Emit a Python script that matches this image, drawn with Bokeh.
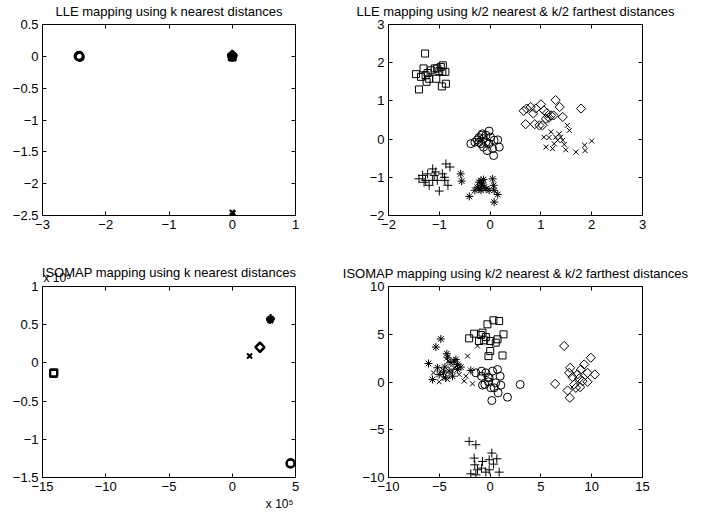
import math
from bokeh.plotting import figure
from bokeh.layouts import gridplot
from bokeh.models import LinearAxis, FixedTicker, CustomJSTickFormatter, Label, Range1d, Title
from bokeh.embed import file_html
from bokeh.resources import INLINE

FONT = "Liberation Sans"

# ---------------- titles ----------------
titles = [
    "LLE mapping using k nearest distances",
    "LLE mapping using k/2 nearest & k/2 farthest distances",
    "ISOMAP mapping using k nearest distances",
    "ISOMAP mapping using k/2 nearest & k/2 farthest distances",
]
multiplier_text = "x 10\u2075"

# ---------------- ticks ----------------
tl_xticks = [-3, -2, -1, 0, 1]
tl_yticks = [-2.5, -2, -1.5, -1, -0.5, 0, 0.5]
tr_xticks = [-2, -1, 0, 1, 2, 3]
tr_yticks = [-2, -1, 0, 1, 2, 3]
bl_xticks = [-15, -10, -5, 0, 5]
bl_yticks = [-1.5, -1, -0.5, 0, 0.5, 1]
br_xticks = [-10, -5, 0, 5, 10, 15]
br_yticks = [-10, -5, 0, 5, 10]

# ---------------- top-left: LLE k nearest ----------------
tl_ci_x = [-2.43, -2.42, -2.41, -2.42]
tl_ci_y = [0.0, 0.01, -0.01, 0.0]
tl_x_x = [0.0, 0.01]
tl_x_y = [-2.45, -2.46]
tl_di_x = [0.0, 0.0]
tl_di_y = [0.0, 0.02]
tl_sq_x = [0.0]
tl_sq_y = [-0.01]
tl_pl_x = [0.0, 0.0]
tl_pl_y = [0.0, 0.03]
tl_st_x = [0.0, 0.0]
tl_st_y = [0.0, -0.02]

# ---------------- top-right: LLE k/2 nearest & k/2 farthest ----------------
tr_sq_x = [-1.28, -1.31, -1.17, -1.04, -0.97, -0.88, -0.93, -1.46, -1.36, -1.27,
           -1.25, -1.23, -1.06, -0.95, -0.87, -1.40, -1.20, -0.94, -1.00, -1.09]
tr_sq_y = [2.24, 1.85, 1.80, 1.85, 1.89, 1.76, 1.93, 1.70, 1.63, 1.67,
           1.50, 1.73, 1.58, 1.38, 1.45, 1.30, 1.58, 1.76, 1.78, 1.85]
tr_ci_x = [-0.38, -0.30, -0.22, -0.17, -0.13, -0.08, -0.02, 0.01, 0.08, 0.18,
           0.15, 0.07, -0.06, -0.13, -0.22, -0.08, -0.15, -0.02, 0.05, -0.25, -0.18]
tr_ci_y = [-0.12, -0.08, 0.04, 0.10, 0.01, -0.08, 0.21, 0.05, -0.03, -0.21,
           -0.02, -0.43, -0.30, -0.21, -0.08, 0.10, 0.14, -0.12, -0.25, -0.02, -0.12]
tr_pl_x = [-1.13, -1.23, -1.33, -1.40, -1.30, -1.20, -1.10, -1.04, -0.94, -0.90,
           -0.87, -0.79, -1.00, -0.83, -1.13, -1.27, -1.07, -0.89]
tr_pl_y = [-0.78, -0.91, -0.95, -1.04, -1.13, -1.21, -0.95, -1.08, -0.91, -1.00,
           -0.65, -0.73, -1.36, -1.21, -1.08, -1.08, -0.86, -1.08]
tr_st_x = [-0.58, -0.56, -0.41, -0.30, -0.25, -0.22, -0.18, -0.17, -0.15, -0.12,
           -0.18, -0.08, 0.05, 0.07, 0.08, 0.15, 0.08, -0.02, -0.22, -0.13]
tr_st_y = [-0.91, -1.10, -1.50, -1.34, -1.26, -1.13, -1.08, -1.21, -1.15, -1.26,
           -1.34, -1.30, -1.04, -1.21, -1.34, -1.45, -1.65, -1.34, -1.30, -1.06]
tr_di_x = [0.66, 0.72, 0.85, 0.90, 1.00, 1.06, 1.12, 1.20, 1.29, 1.37,
           1.43, 1.25, 0.97, 1.03, 0.70, 0.88, 1.79, 1.10, 1.16, 0.80]
tr_di_y = [0.74, 0.80, 0.67, 0.80, 0.91, 0.75, 0.68, 0.62, 1.02, 0.84,
           0.58, 0.62, 0.36, 0.36, 0.39, 0.39, 0.80, 0.53, 0.56, 0.84]
tr_x_x = [1.06, 1.10, 1.20, 1.23, 1.26, 1.33, 1.36, 1.39, 1.43, 1.46,
          1.49, 1.52, 1.56, 1.69, 1.87, 1.86, 2.00, 1.29, 1.16]
tr_x_y = [0.05, -0.21, 0.19, -0.25, -0.12, -0.03, 0.14, 0.05, -0.03, -0.14,
          -0.28, 0.36, 0.23, -0.34, -0.30, -0.16, -0.05, 0.05, 0.04]

# ---------------- bottom-left: ISOMAP k nearest (x 10^5) ----------------
bl_sq_x = [-14.13, -14.10]
bl_sq_y = [-0.14, -0.13]
bl_x_x = [1.37]
bl_x_y = [0.09]
bl_di_x = [2.18, 2.20]
bl_di_y = [0.21, 0.20]
bl_st_x = [3.03, 3.00]
bl_st_y = [0.575, 0.56]
bl_pl_x = [3.03]
bl_pl_y = [0.58]
bl_ci_x = [4.60, 4.62]
bl_ci_y = [-1.32, -1.31]

# ---------------- bottom-right: ISOMAP k/2 nearest & k/2 farthest ----------------
br_sq_x = [-2.06, -1.57, -1.08, -0.75, -0.58, -0.26, 0.01, 0.33, 0.89, 0.56,
           0.73, 1.32, -0.16, 0.01, 1.22, -0.91, -0.42]
br_sq_y = [4.57, 5.06, 4.29, 5.17, 4.36, 6.04, 4.29, 6.46, 6.39, 4.12,
           4.47, 4.99, 2.71, 3.24, 2.78, 4.92, 4.71]
br_ci_x = [-1.40, -0.85, -0.42, -0.19, 0.24, 0.73, 0.99, 1.06, 0.40, 0.07,
           -0.52, -0.75, -0.16, 0.17, 0.79, 1.71, 2.96, -0.85, 0.56, -0.09]
br_ci_y = [0.96, 1.14, 0.96, 0.51, 1.14, 1.31, 0.61, -0.33, -0.61, -0.61,
           -0.26, -0.33, 0.02, -1.94, -1.14, -1.59, -0.26, 0.61, -0.09, 0.44]
br_st_x = [-6.06, -5.34, -4.85, -4.26, -4.19, -3.86, -3.54, -3.37, -3.21, -5.67,
           -5.01, -4.59, -4.36, -4.03, -3.70, -3.21, -2.88, -1.90, -4.46, -5.18]
br_st_y = [1.94, 3.66, 4.50, 2.96, 2.54, 2.01, 2.19, 2.36, 1.84, 0.26,
           0.79, 0.96, 0.44, 1.14, 0.61, 1.31, 1.56, 1.21, 1.56, 1.49]
br_x_x = [-5.57, -5.01, -4.69, -4.13, -3.70, -3.27, -3.04, -2.39, -2.22, -1.73,
          -1.24, -4.19, -4.52, -2.55, -3.54]
br_x_y = [0.96, 0.02, 1.31, 2.19, 1.14, 1.66, 0.79, 0.61, 2.71, -0.19,
          3.77, 0.26, 0.44, 0.09, 1.49]
br_di_x = [7.29, 6.40, 7.88, 7.78, 8.60, 8.93, 9.26, 9.91, 9.59, 10.31,
           8.77, 9.09, 8.27, 8.44, 7.62, 7.85, 9.59, 8.86, 8.11]
br_di_y = [3.77, -0.19, 1.49, 0.96, 0.79, 1.31, 1.84, 2.54, 0.96, 0.79,
           0.37, 0.09, -0.26, -0.61, -0.89, -1.66, 0.02, -0.54, 0.51]
br_pl_x = [-2.06, -1.40, -1.57, -0.09, 0.17, 0.66, 0.33, 0.89, -1.50, -1.24,
           -0.75, -0.42, -1.90, -1.40, -0.85, -0.09]
br_pl_y = [-6.22, -6.57, -7.97, -8.14, -7.44, -8.04, -8.60, -9.44, -8.67, -9.19,
           -8.32, -9.44, -9.61, -9.72, -9.02, -9.19]

FMT = CustomJSTickFormatter(code="""
var s = (Math.round(tick*1000)/1000).toString();
return s.replace('-', '\\u2212');
""")


def style_axis(ax, ticks, show_labels=True):
    ax.ticker = FixedTicker(ticks=ticks)
    ax.minor_tick_line_color = None
    ax.axis_line_color = "black"
    ax.major_tick_line_color = "black"
    ax.major_tick_in = 4
    ax.major_tick_out = 0
    if show_labels:
        ax.formatter = FMT
        ax.major_label_text_font = FONT
        ax.major_label_text_font_size = "13px"
        ax.major_label_text_color = "black"
        ax.major_label_standoff = 4
    else:
        ax.major_label_text_color = None
        ax.major_label_text_font_size = "1px"
        ax.major_label_standoff = 0


def make_panel(title, xr, yr, xticks, yticks, fw, left, right, top, bottom,
               top_label=None, t_valign="top", t_standoff=7):
    p = figure(frame_width=fw, frame_height=191,
               x_range=Range1d(*xr), y_range=Range1d(*yr),
               output_backend="svg", toolbar_location=None, tools="",
               min_border_left=left, min_border_right=right,
               min_border_top=top, min_border_bottom=bottom,
               background_fill_color="white", border_fill_color="white")
    p.grid.visible = False
    p.outline_line_color = "black"
    p.outline_line_width = 1
    p.title.text = title
    p.title.align = "center"
    p.title.vertical_align = t_valign
    p.title.text_font = FONT
    p.title.text_font_size = "13px"
    p.title.text_font_style = "normal"
    p.title.text_color = "black"
    p.title.standoff = t_standoff
    style_axis(p.xaxis[0], xticks)
    style_axis(p.yaxis[0], yticks)
    # top and right axes: inward ticks only (box style)
    top_ax = LinearAxis()
    style_axis(top_ax, xticks, show_labels=False)
    right_ax = LinearAxis()
    style_axis(right_ax, yticks, show_labels=False)
    p.add_layout(top_ax, "above")
    p.add_layout(right_ax, "right")
    if top_label is not None:
        p.add_layout(top_label, "above")
    return p


def draw(p, xs, ys, marker, size, lw=1, angle=0.0):
    p.scatter(xs, ys, marker=marker, size=size, angle=angle,
              fill_color=None, line_color="black", line_width=lw)


def draw_all(p, sets, lw):
    (ci, xm, pl, st, sq, di) = sets
    draw(p, ci[0], ci[1], "circle", 8, lw)
    draw(p, xm[0], xm[1], "x", 7, lw)
    draw(p, pl[0], pl[1], "cross", 9, lw)
    draw(p, st[0], st[1], "asterisk", 8, lw)
    draw(p, sq[0], sq[1], "square", 7, lw)
    draw(p, di[0], di[1], "square", 6.5, lw, angle=math.pi / 4)


LW, RW = 300, 414  # canvas widths of the two columns

p1 = make_panel(titles[0], (-3, 1), (-2.5, 0.5), tl_xticks, tl_yticks, 253, 42, LW - 42 - 253, 24, 45)
draw_all(p1, ((tl_ci_x, tl_ci_y), (tl_x_x, tl_x_y), (tl_pl_x, tl_pl_y),
              (tl_st_x, tl_st_y), (tl_sq_x, tl_sq_y), (tl_di_x, tl_di_y)), 2)

p2 = make_panel(titles[1], (-2, 3), (-2, 3), tr_xticks, tr_yticks, 254, 88, RW - 88 - 254, 24, 45)
draw_all(p2, ((tr_ci_x, tr_ci_y), (tr_x_x, tr_x_y), (tr_pl_x, tr_pl_y),
              (tr_st_x, tr_st_y), (tr_sq_x, tr_sq_y), (tr_di_x, tr_di_y)), 1)

# y-axis multiplier at the top-left corner of the lower-left axes
ymult = Label(x=1, y=0, x_units="screen", y_units="screen",
              text=multiplier_text, text_align="left", text_baseline="bottom",
              y_offset=2, text_font=FONT, text_font_size="12px", text_color="black")
p3 = make_panel(titles[2], (-15, 5), (-1.5, 1), bl_xticks, bl_yticks, 253, 42, LW - 42 - 253, 26, 43,
                top_label=ymult, t_valign="bottom", t_standoff=-15)
draw_all(p3, ((bl_ci_x, bl_ci_y), (bl_x_x, bl_x_y), (bl_pl_x, bl_pl_y),
              (bl_st_x, bl_st_y), (bl_sq_x, bl_sq_y), (bl_di_x, bl_di_y)), 2)
# x-axis multiplier below the axis, right-aligned
p3.add_layout(Title(text=multiplier_text, align="right", vertical_align="top",
                    text_font=FONT, text_font_size="12px", text_font_style="normal",
                    text_color="black", standoff=6, offset=2), "below")

p4 = make_panel(titles[3], (-10, 15), (-10, 10), br_xticks, br_yticks, 254, 88, RW - 88 - 254, 26, 43)
draw_all(p4, ((br_ci_x, br_ci_y), (br_x_x, br_x_y), (br_pl_x, br_pl_y),
              (br_st_x, br_st_y), (br_sq_x, br_sq_y), (br_di_x, br_di_y)), 1)

grid = gridplot([[p1, p2], [p3, p4]], toolbar_location=None)

with open("out.html", "w") as f:
    f.write(file_html(grid, INLINE))
